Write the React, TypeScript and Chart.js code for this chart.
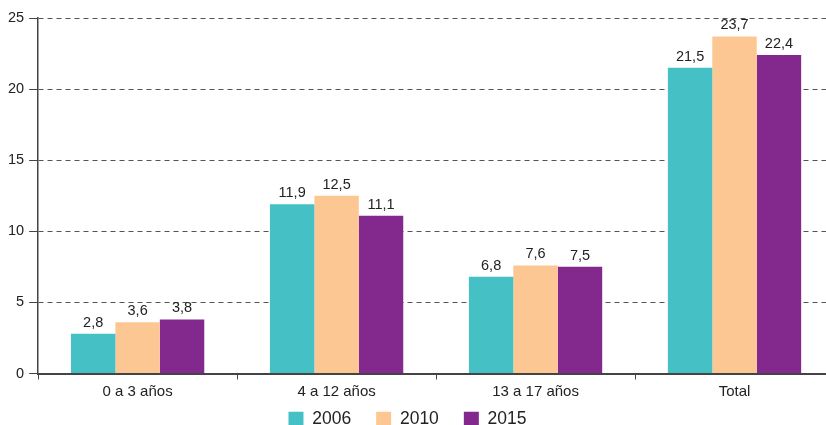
import React, { useEffect, useRef } from "react";
import { Chart, registerables } from "chart.js";

Chart.register(...registerables);

const categories = ["0 a 3 años", "4 a 12 años", "13 a 17 años", "Total"];
const seriesNames = ["2006", "2010", "2015"];
const values2006 = [2.8, 11.9, 6.8, 21.5];
const values2010 = [3.6, 12.5, 7.6, 23.7];
const values2015 = [3.8, 11.1, 7.5, 22.4];
const yTicks = [0, 5, 10, 15, 20, 25];
const colors = ["#45C1C6", "#FDC794", "#83298E"];

const FONT = "'Liberation Sans', Arial, sans-serif";

const valueLabels = {
  id: "valueLabels",
  afterDatasetsDraw(chart: any) {
    const ctx = chart.ctx;
    ctx.save();
    ctx.font = `14.5px ${FONT}`;
    ctx.fillStyle = "#222";
    ctx.textAlign = "center";
    ctx.textBaseline = "alphabetic";
    chart.data.datasets.forEach((ds: any, i: number) => {
      const meta = chart.getDatasetMeta(i);
      meta.data.forEach((bar: any, j: number) => {
        const v = ds.data[j];
        ctx.fillText(String(v).replace(".", ","), bar.x, bar.y - 7);
      });
    });
    ctx.restore();
  },
};

const legendShift = {
  id: "legendShift",
  afterLayout(chart: any) {
    const l = chart.legend;
    if (!l) return;
    const dx = -11;
    const dy = -18;
    l.left += dx;
    l.right += dx;
    l.top += dy;
    l.bottom += dy;
  },
};

export default function App() {
  const ref = useRef<HTMLCanvasElement>(null);
  useEffect(() => {
    if (!ref.current) return;
    const series = [values2006, values2010, values2015];
    const chart = new Chart(ref.current, {
      type: "bar",
      data: {
        labels: categories,
        datasets: series.map((d, i) => ({
          label: seriesNames[i],
          data: d,
          backgroundColor: colors[i],
          borderWidth: 0,
          categoryPercentage: 0.67,
          barPercentage: 1,
        })),
      },
      options: {
        animation: false,
        responsive: false,
        maintainAspectRatio: false,
        layout: { padding: { top: 18, right: 0, left: 3, bottom: 0 } },
        plugins: {
          tooltip: { enabled: false },
          legend: {
            position: "bottom",
            labels: {
              boxWidth: 15,
              boxHeight: 15,
              padding: 25,
              color: "#222",
              font: { family: FONT, size: 17.5 },
            },
          },
        },
        scales: {
          x: {
            grid: {
              display: true,
              drawOnChartArea: false,
              drawTicks: true,
              tickLength: 6,
              color: "#444",
              offset: true,
            },
            border: { display: true, color: "#444", width: 2 },
            ticks: { color: "#222", font: { family: FONT, size: 15 }, padding: 3 },
          },
          y: {
            min: 0,
            max: 25,
            afterBuildTicks(scale: any) {
              scale.ticks = yTicks.map((v) => ({ value: v }));
            },
            grid: {
              color: "#555",
              tickColor: "#444",
              tickLength: 9,
              lineWidth: 1,
              tickBorderDash: [],
            },
            border: { display: true, color: "#444", width: 1.5, dash: [5, 4] },
            ticks: { color: "#222", font: { family: FONT, size: 14.5 }, padding: 5 },
          },
        },
      },
      plugins: [valueLabels, legendShift],
    });
    return () => chart.destroy();
  }, []);
  return (
    <div style={{ position: "fixed", left: 0, top: 0, width: 826, height: 425, overflow: "hidden", background: "#fff" }}>
      <canvas ref={ref} width={834} height={456} style={{ display: "block" }} />
    </div>
  );
}
